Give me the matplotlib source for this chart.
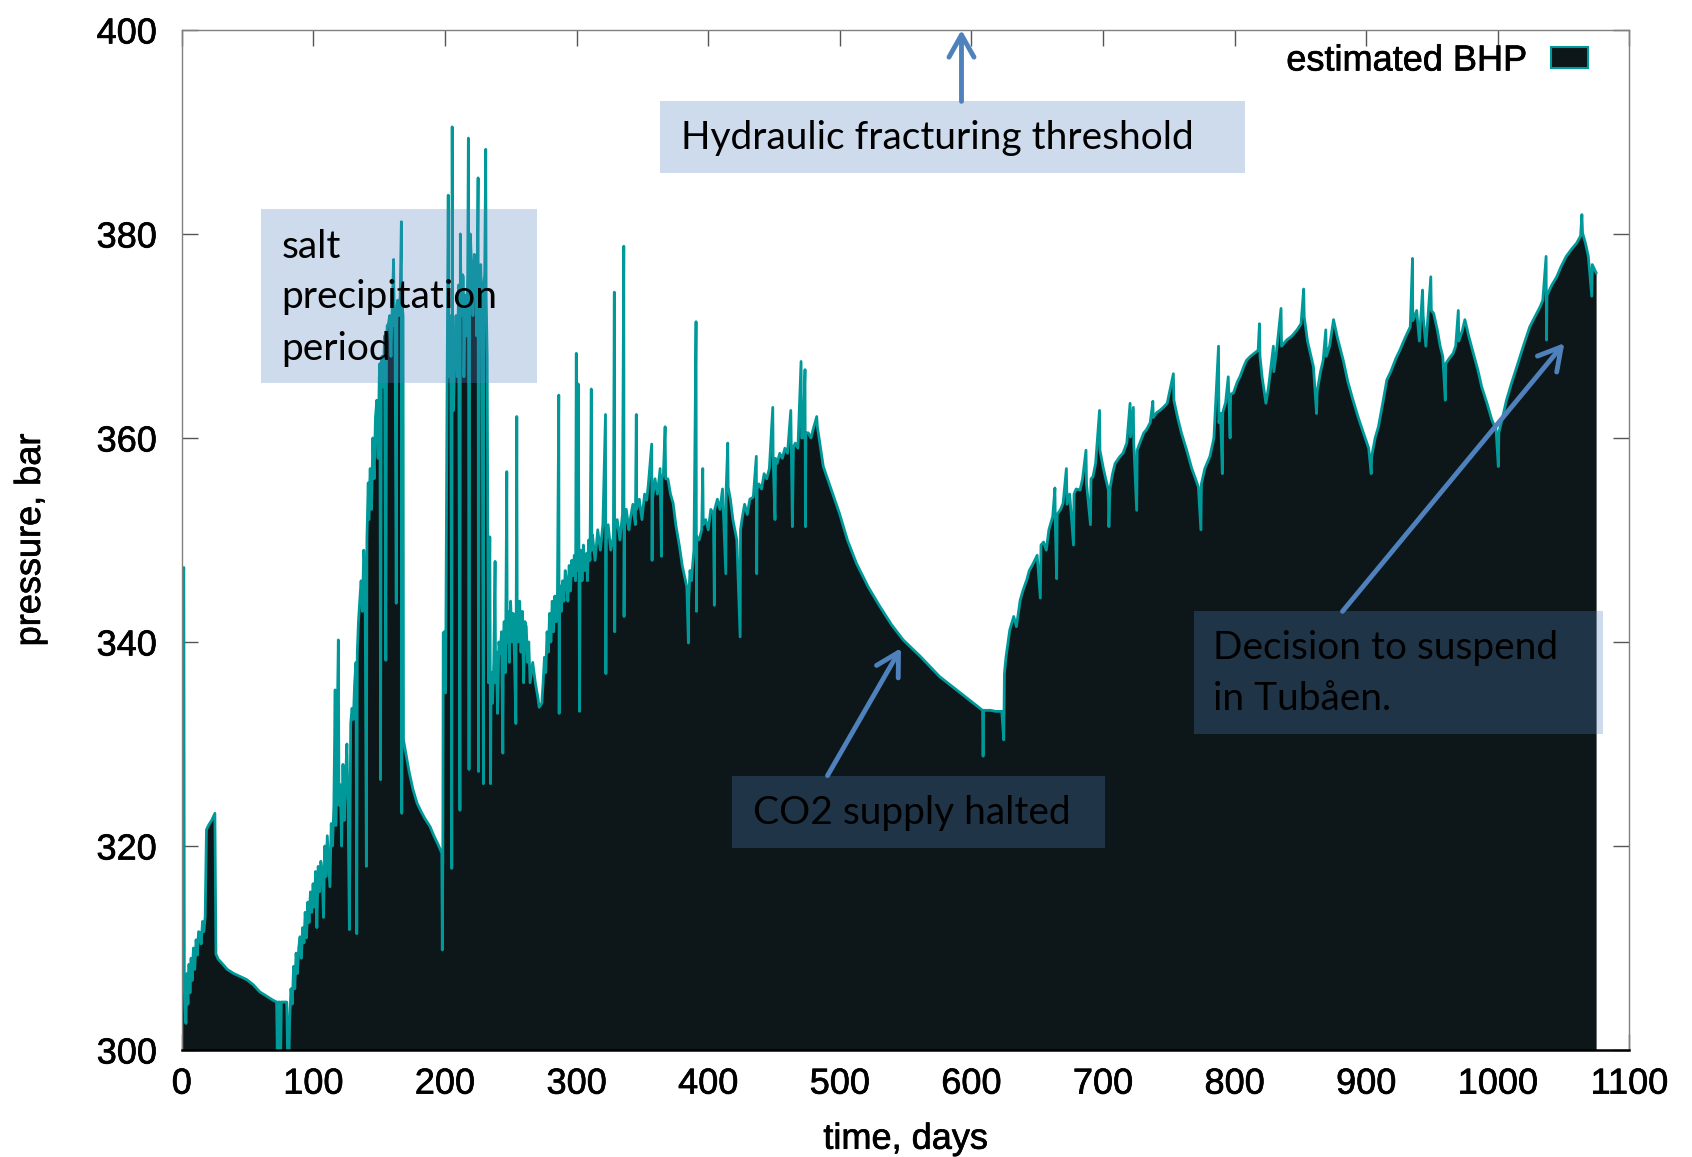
import numpy as np
import matplotlib
matplotlib.use("Agg")
import matplotlib.pyplot as plt
import matplotlib.patheffects as pe
from matplotlib.patches import Rectangle, Patch

plt.rcParams["font.family"] = ["Liberation Sans", "DejaVu Sans"]

# ---------------------------------------------------------------------------
# Estimated bottom-hole pressure, (time in days, pressure in bar)
# ---------------------------------------------------------------------------
startup = [
    (0.0, 300.0), (0.8, 345.8), (1.6, 347.3), (2.0, 306.9), (2.6, 304.0),
    (3.2, 302.6), (4.0, 307.5), (4.7, 304.5), (5.5, 308.4), (6.3, 305.6),
    (7.1, 309.0), (7.9, 306.8), (8.9, 310.0), (9.9, 307.9), (10.9, 310.8),
    (11.9, 309.3), (12.8, 311.6), (13.8, 311.5), (14.8, 310.4), (15.8, 312.6),
    (16.8, 311.6), (17.8, 313.0), (18.8, 321.6), (20.7, 322.1), (22.7, 322.5),
    (25.2, 323.2), (26.0, 309.4), (27.7, 308.9), (30.6, 308.5), (34.6, 307.9),
    (39.5, 307.5), (44.5, 307.2), (49.4, 306.9), (54.3, 306.4), (59.3, 305.7),
    (64.2, 305.3), (69.1, 304.9), (72.1, 304.7), (72.6, 300.0), (73.1, 304.7),
    (74.7, 304.7), (75.2, 300.0), (75.7, 304.7), (79.8, 304.7), (80.4, 300.0),
    (81.6, 300.0),
]

ramp_up = [
    (82.0, 303.0), (83.0, 306.0), (84.0, 304.5), (85.0, 308.2), (85.9, 306.0),
    (86.9, 309.5), (87.9, 307.5), (88.9, 310.0), (89.9, 311.1), (90.9, 309.0),
    (91.9, 312.0), (92.9, 310.5), (93.8, 313.5), (94.8, 311.0), (95.8, 314.5),
    (96.8, 312.5), (97.8, 315.5), (98.8, 313.5), (99.8, 316.3), (100.8, 314.0),
    (101.7, 317.5), (102.7, 312.0), (103.7, 318.0), (104.7, 315.5), (105.7, 318.5),
    (106.7, 317.6), (107.7, 313.0), (108.7, 320.0), (109.6, 317.0), (110.6, 321.0),
    (111.6, 318.5), (112.6, 316.0), (113.6, 322.2), (114.6, 320.0), (115.6, 324.0),
    (116.6, 335.3), (117.1, 322.0), (117.5, 325.0), (119.0, 340.2), (119.5, 324.0),
    (120.5, 326.0), (121.5, 320.0), (122.5, 328.0), (123.5, 322.5), (124.5, 326.5),
    (125.5, 330.0), (126.4, 324.0), (127.4, 311.8), (127.9, 322.9), (128.4, 332.0),
    (129.4, 333.5), (130.4, 332.4), (131.4, 336.0), (132.4, 338.0), (133.0, 311.4),
    (133.4, 339.0), (134.3, 342.0), (135.3, 344.1),
]

burst_1 = [
    (136.3, 346.0), (137.3, 343.0), (138.3, 349.0), (139.3, 347.0), (140.3, 318.0),
    (140.7, 350.0), (141.7, 355.6), (142.2, 352.0), (143.2, 357.0), (144.2, 353.0),
    (145.2, 360.0), (146.2, 356.0), (147.2, 362.0), (148.2, 363.7), (149.2, 358.0),
    (150.1, 366.0), (150.6, 367.3), (151.1, 326.5), (151.6, 366.0), (152.1, 368.0),
    (153.1, 365.0), (154.1, 370.0), (155.1, 338.2), (155.6, 369.0), (156.1, 371.0),
    (157.1, 371.2), (158.0, 372.0), (159.0, 368.0), (160.0, 373.0), (161.0, 377.5),
    (161.5, 371.0), (162.0, 372.5), (163.0, 343.8), (163.5, 372.9), (164.0, 373.5),
    (165.0, 372.0), (166.0, 374.0), (166.9, 381.2), (167.2, 323.2), (167.5, 373.0),
    (168.2, 372.0), (168.5, 330.4),
]

shut_in_1 = [
    (169.9, 329.4), (172.9, 327.2), (175.8, 325.5), (178.8, 324.2), (181.8, 323.4),
    (184.7, 322.7), (188.7, 321.9), (191.6, 321.0), (194.6, 320.2), (197.6, 319.3),
    (198.0, 309.8), (198.4, 319.0),
]

burst_2 = [
    (198.7, 340.9), (199.5, 341.0), (200.5, 335.0), (201.5, 362.0), (202.5, 383.8),
    (203.0, 366.0), (203.5, 372.0), (204.5, 365.0), (205.2, 317.8), (205.5, 390.5),
    (205.9, 364.0), (206.5, 362.7), (207.4, 368.0), (208.4, 372.0), (209.4, 366.0),
    (210.4, 375.0), (211.4, 323.5), (211.7, 380.0), (212.4, 372.0), (213.4, 376.0),
    (214.0, 375.8), (214.4, 366.0), (215.3, 374.0), (216.3, 370.0), (217.3, 376.0),
    (217.8, 389.4), (218.3, 327.5), (218.8, 375.0), (219.3, 380.0), (220.3, 376.5),
    (221.3, 372.0), (222.3, 378.0), (223.2, 377.8), (224.2, 370.0), (225.2, 385.5),
    (225.5, 327.3), (226.2, 374.0), (227.2, 377.0), (228.2, 372.0), (229.2, 326.1),
    (229.6, 375.2), (230.2, 376.0), (231.0, 388.3), (231.3, 374.0), (232.1, 368.0),
    (232.6, 350.0), (233.1, 336.0),
]

injection_1 = [
    (234.1, 350.3), (234.5, 335.6), (234.7, 326.1), (235.1, 337.0), (236.1, 334.0),
    (237.1, 338.0), (238.1, 347.9), (238.5, 336.0), (239.0, 339.0), (240.0, 333.0),
    (241.0, 340.0), (242.0, 338.9), (243.0, 341.0), (244.0, 329.1), (244.4, 340.0),
    (245.0, 342.0), (246.0, 337.0), (247.0, 356.7), (247.3, 340.0), (247.9, 343.0),
    (248.9, 338.0), (249.9, 344.0), (250.9, 340.0), (251.9, 342.8), (252.9, 338.0),
    (253.9, 332.0), (254.6, 362.1), (254.9, 343.0), (255.8, 340.0), (256.8, 344.0),
    (257.8, 339.0), (258.8, 343.0), (259.8, 336.0), (260.8, 342.0), (261.8, 341.5),
    (262.8, 338.0), (263.7, 340.0), (264.7, 336.0), (266.7, 338.0), (268.7, 336.0),
    (270.7, 334.5), (271.6, 333.6), (273.6, 334.0),
    (274.6, 336.0), (275.6, 338.5), (276.6, 337.0), (277.6, 341.0), (278.6, 339.0),
    (279.5, 342.8), (280.5, 340.0), (281.5, 344.0), (282.5, 341.0), (283.5, 344.5),
    (284.5, 342.0), (285.5, 345.0), (286.5, 364.2), (286.8, 333.0), (287.1, 344.0),
    (287.4, 345.5), (288.4, 343.0), (289.4, 346.0), (290.4, 344.0), (291.4, 347.0),
    (292.4, 346.0), (293.4, 344.0), (294.4, 347.5), (295.4, 345.0), (296.3, 348.0),
    (297.3, 346.5), (298.3, 348.5), (299.3, 346.0), (299.8, 368.3), (300.3, 347.0),
    (301.3, 365.3), (302.3, 333.2), (302.7, 348.0), (303.3, 349.0), (304.2, 346.0),
    (305.2, 349.5), (306.2, 347.0), (307.7, 348.7), (308.2, 346.0), (309.2, 350.0),
    (310.2, 348.0), (311.2, 364.8), (311.6, 349.0), (312.1, 350.5), (314.1, 348.0),
    (316.1, 351.0), (318.1, 349.0), (320.0, 351.5), (322.0, 362.3), (322.3, 336.9),
    (322.6, 350.0), (324.0, 351.5), (326.0, 349.0), (328.0, 350.3), (328.7, 374.3),
    (329.0, 341.0), (329.3, 351.0), (330.9, 352.0), (332.9, 350.0), (334.9, 352.5),
    (335.9, 378.8), (336.1, 342.5), (336.4, 351.0), (337.8, 353.0), (339.8, 351.0),
    (340.8, 352.0), (342.8, 353.5), (344.7, 351.5), (345.4, 362.3), (345.7, 353.0),
    (347.7, 354.0), (349.7, 352.0), (351.7, 354.5), (353.3, 353.9), (354.6, 355.5),
    (357.1, 359.4), (357.4, 348.0), (357.7, 354.0), (359.6, 356.0), (361.5, 354.5),
    (363.5, 357.0), (364.5, 348.4), (364.8, 356.0), (366.0, 356.5), (367.3, 361.1),
    (367.7, 356.0),
]

injection_2 = [
    (369.4, 356.0), (371.4, 354.5), (373.4, 353.6), (375.4, 351.5), (378.3, 349.3),
    (380.3, 347.5), (383.8, 345.4), (385.0, 339.9), (385.2, 344.0), (386.2, 347.0),
    (387.2, 346.0), (389.2, 349.0), (390.8, 371.4), (391.1, 343.0), (391.4, 350.3),
    (393.1, 350.0), (395.1, 351.0), (395.9, 357.0), (396.3, 351.5), (398.1, 352.0),
    (400.1, 351.0), (402.0, 353.0), (404.0, 352.6), (404.7, 343.6), (405.0, 353.0),
    (407.0, 354.0), (409.0, 353.0), (410.9, 355.0), (413.4, 346.7), (413.7, 355.0),
    (414.9, 359.5), (415.2, 355.2), (416.9, 354.0), (418.8, 352.0), (421.8, 350.0),
    (424.3, 340.5), (424.6, 351.0), (425.7, 352.0), (427.7, 353.5), (429.7, 352.5),
    (431.7, 354.0), (434.3, 354.2), (436.6, 358.2), (436.9, 346.7), (437.2, 355.0),
    (438.6, 355.5), (440.6, 355.0), (442.5, 356.5), (444.5, 356.0), (446.5, 357.0),
    (449.1, 363.0), (449.4, 357.8), (450.8, 352.0), (451.2, 358.0), (452.4, 357.5),
    (454.4, 358.5), (456.4, 358.0), (458.3, 359.0), (460.3, 358.5), (462.8, 362.7),
    (464.0, 351.3), (464.8, 359.1), (466.2, 359.5), (468.2, 359.0), (470.6, 367.5),
    (471.0, 360.0), (472.2, 360.0), (473.6, 366.7), (473.9, 351.3), (474.3, 360.5),
    (476.1, 360.5), (478.1, 360.0), (480.1, 361.0), (482.5, 362.1), (483.0, 361.1),
]

# CO2 supply halted: pressure fall-off
fall_off = [
    (487.5, 357.2), (493.9, 354.8), (499.8, 352.6), (505.8, 350.0), (512.7, 347.7),
    (521.6, 345.4), (530.4, 343.5), (539.3, 341.7), (548.2, 340.2), (561.1, 338.6),
    (575.9, 336.6), (591.7, 335.0), (600.6, 334.1), (608.5, 333.3), (608.9, 328.8),
    (609.3, 333.3), (614.4, 333.3), (618.4, 333.2), (623.1, 333.2), (624.6, 330.4),
]

restart = [
    (625.1, 336.9), (626.3, 338.5), (629.2, 341.2), (632.2, 342.5), (634.2, 341.5),
    (637.1, 344.1), (639.1, 345.0), (642.1, 346.1), (644.0, 347.0), (647.0, 347.7),
    (650.0, 348.5), (652.4, 344.3), (652.9, 349.5), (654.9, 349.8), (656.9, 349.0),
    (658.9, 351.0), (661.8, 352.3), (663.5, 355.1), (663.8, 351.5), (664.8, 346.2),
    (665.2, 352.5), (667.8, 353.0), (669.7, 353.6), (672.2, 357.0), (672.7, 353.5),
    (674.7, 354.5), (677.6, 349.5), (678.0, 354.5), (679.6, 355.0), (682.6, 354.9),
    (684.5, 356.0), (687.1, 358.8), (687.5, 355.5), (690.5, 351.5), (690.9, 356.0),
    (692.4, 356.2), (694.4, 357.5), (697.4, 362.7), (697.7, 358.8), (700.3, 357.0),
    (704.1, 354.9), (704.5, 351.3), (705.3, 355.0), (707.3, 356.5), (709.2, 357.5),
    (713.0, 358.2), (715.2, 358.5), (718.1, 359.5), (720.6, 363.4), (720.9, 360.1),
    (723.1, 363.0), (723.4, 359.5), (725.6, 352.9), (726.0, 358.8), (728.0, 359.5),
    (731.0, 360.5), (733.0, 360.8), (735.9, 361.5), (737.9, 363.6), (738.2, 362.0),
    (740.9, 362.5), (743.3, 362.7), (745.8, 363.0), (748.8, 363.4), (753.5, 366.3),
    (753.9, 363.7), (756.7, 362.0), (759.6, 360.5), (763.6, 358.8), (767.5, 357.0),
    (772.5, 355.2), (774.4, 351.0), (774.8, 355.5), (777.4, 357.0), (781.3, 358.2),
    (784.3, 360.0), (787.8, 369.0), (788.1, 361.5), (789.3, 362.4), (790.7, 356.5),
    (791.0, 362.5), (793.2, 363.5), (795.2, 366.0), (796.6, 360.0), (797.0, 364.3),
    (799.1, 364.4), (802.1, 365.5), (804.1, 366.0), (807.0, 367.0), (809.0, 367.6),
    (812.0, 368.0), (814.9, 368.3), (817.9, 368.6), (818.9, 371.2), (819.3, 368.0),
    (820.9, 366.0), (823.8, 363.4), (825.8, 365.0), (829.5, 369.0), (829.8, 366.5),
    (831.7, 368.3), (835.3, 372.7), (835.7, 369.0), (839.6, 369.6), (843.6, 370.0),
    (847.5, 370.6), (850.5, 371.2), (852.5, 374.6), (852.9, 371.9), (855.4, 369.5),
    (859.9, 367.0), (862.3, 362.4), (862.7, 364.5), (865.3, 366.5), (867.3, 367.6),
    (869.3, 370.6), (869.7, 368.0), (872.2, 369.0), (875.2, 371.6), (878.2, 369.8),
    (882.6, 367.6), (886.1, 365.5), (890.0, 363.7), (894.0, 362.0), (897.9, 360.5),
    (901.9, 359.0), (903.8, 356.5), (904.2, 358.2), (906.8, 360.0), (909.3, 361.1),
    (912.7, 363.5), (915.7, 365.7), (918.7, 366.5), (922.6, 367.8), (925.6, 368.6),
    (929.5, 369.8), (933.5, 370.9), (935.2, 377.6), (935.4, 371.5), (938.4, 372.5),
    (940.4, 369.5), (942.8, 374.5), (943.3, 372.0), (945.3, 369.0), (947.3, 372.5),
    (949.1, 375.8), (949.5, 372.5), (951.3, 372.2), (954.2, 370.5), (956.2, 369.0),
    (958.2, 368.0), (960.1, 363.7), (960.5, 367.3), (963.1, 367.8), (966.1, 368.3),
    (968.0, 369.0), (970.0, 372.5), (970.4, 369.5), (973.0, 370.5), (975.0, 371.6),
    (977.9, 370.0), (981.4, 368.3), (984.8, 366.7), (987.8, 365.0), (991.8, 363.4),
    (995.4, 361.8), (998.7, 360.8), (1000.4, 357.2), (1000.8, 360.5), (1003.6, 362.0),
    (1006.6, 363.7), (1010.5, 365.4), (1014.5, 367.0), (1019.4, 369.0), (1024.3, 370.9),
    (1028.3, 371.9), (1032.3, 372.9), (1034.2, 373.5), (1036.7, 377.8), (1037.0, 369.6),
    (1037.4, 374.0), (1041.1, 375.0), (1044.8, 375.8), (1048.1, 376.8), (1052.0, 377.8),
    (1056.0, 378.5), (1059.9, 379.1), (1062.9, 379.8), (1063.9, 381.9), (1064.4, 380.1),
    (1066.8, 379.0), (1068.8, 377.8), (1071.4, 373.9), (1071.8, 377.0), (1074.7, 376.2),
]

record = (startup + ramp_up + burst_1 + shut_in_1 + burst_2 + injection_1
          + injection_2 + fall_off + restart)
days = np.array([d for d, _ in record])
bhp = np.array([p for _, p in record])

x_ticks = list(range(0, 1101, 100))
y_ticks = list(range(300, 401, 20))

# ---------------------------------------------------------------------------
FILL = "#0d1719"
TEAL = "#009999"
NOTE = "#4f81bd"
NOTE_FONT = ["Lato", "DejaVu Sans"]
HEAVY = [pe.withStroke(linewidth=0.5, foreground="black")]

fig = plt.figure(figsize=(16.92, 11.57), dpi=100)
ax = fig.add_axes([0.1074, 0.0925, 0.8556, 0.8816])

ax.fill_between(days, 300, bhp, color=FILL, lw=0, zorder=2)
ax.plot(days, bhp, color=TEAL, lw=2.0, zorder=3)

ax.set_xlim(0, 1100)
ax.set_ylim(300, 400)
ax.set_xticks(x_ticks)
ax.set_yticks(y_ticks)
ax.tick_params(direction="in", length=11.5, width=1, color="#555555",
               top=True, right=True, labelsize=26)
ax.tick_params(axis="x", pad=12)
ax.tick_params(axis="y", pad=18)
for lbl in ax.get_xticklabels() + ax.get_yticklabels():
    lbl.set_path_effects(HEAVY)
for side in ("left", "right", "top"):
    ax.spines[side].set_color("#808080")
    ax.spines[side].set_linewidth(1)
ax.spines["bottom"].set_color("black")
ax.spines["bottom"].set_linewidth(1.8)
for s in ax.spines.values():
    s.set_zorder(6)

ax.set_xlabel("time, days", fontsize=26, va="center", path_effects=HEAVY)
ax.xaxis.set_label_coords(0.5, -0.0875)
ax.set_ylabel("pressure, bar", fontsize=26, va="center", path_effects=HEAVY)
ax.yaxis.set_label_coords(-0.1045, 0.5)

# legend
handle = Patch(facecolor=FILL, edgecolor=TEAL, lw=1.5, label="estimated BHP")
leg = ax.legend(handles=[handle], loc="center right", bbox_to_anchor=(0.9713, 0.9696),
                frameon=False, fontsize=26, markerfirst=False, handlelength=1.03,
                handleheight=0.52, handletextpad=0.66, borderpad=0, borderaxespad=0)
for t in leg.get_texts():
    t.set_path_effects(HEAVY)

# annotation boxes: (day0, day1, bar0, bar1)
def note_box(d0, d1, p0, p1):
    ax.add_patch(Rectangle((d0, p0), d1 - d0, p1 - p0, facecolor=NOTE,
                           alpha=0.28, edgecolor="none", zorder=4, clip_on=False))

def note_arrow(start, tip):
    ax.annotate("", xy=tip, xytext=start, zorder=5, annotation_clip=False,
                arrowprops=dict(arrowstyle="->, head_length=0.8, head_width=0.45",
                                lw=3.5, color=NOTE, shrinkA=0, shrinkB=0,
                                mutation_scale=20, capstyle="round"))

note_box(363.1, 807.9, 386.0, 393.0)
ax.text(379.1, 389.4, "Hydraulic fracturing threshold", fontsize=28,
        family=NOTE_FONT, va="center", ha="left", zorder=6)
note_arrow((592.5, 393.0), (592.5, 400.0))

note_box(60.4, 269.8, 365.4, 382.4)
for bar, line in zip((378.7, 373.8, 368.7), ("salt", "precipitation", "period")):
    ax.text(76.0, bar, line, fontsize=28, family=NOTE_FONT, va="center",
            ha="left", zorder=6)

note_box(418.2, 701.5, 319.8, 326.9)
ax.text(434.3, 323.2, "CO2 supply halted", fontsize=28, family=NOTE_FONT,
        va="center", ha="left", zorder=6)
note_arrow((490.7, 326.9), (546.5, 339.4))

note_box(769.1, 1080.0, 331.0, 343.0)
for bar, line in zip((339.4, 334.4), ("Decision to suspend", "in Tubåen.")):
    ax.text(783.5, bar, line, fontsize=28, family=NOTE_FONT, va="center",
            ha="left", zorder=6)
note_arrow((882.0, 343.0), (1050.6, 369.3))

fig.savefig("out.png", dpi=100)
